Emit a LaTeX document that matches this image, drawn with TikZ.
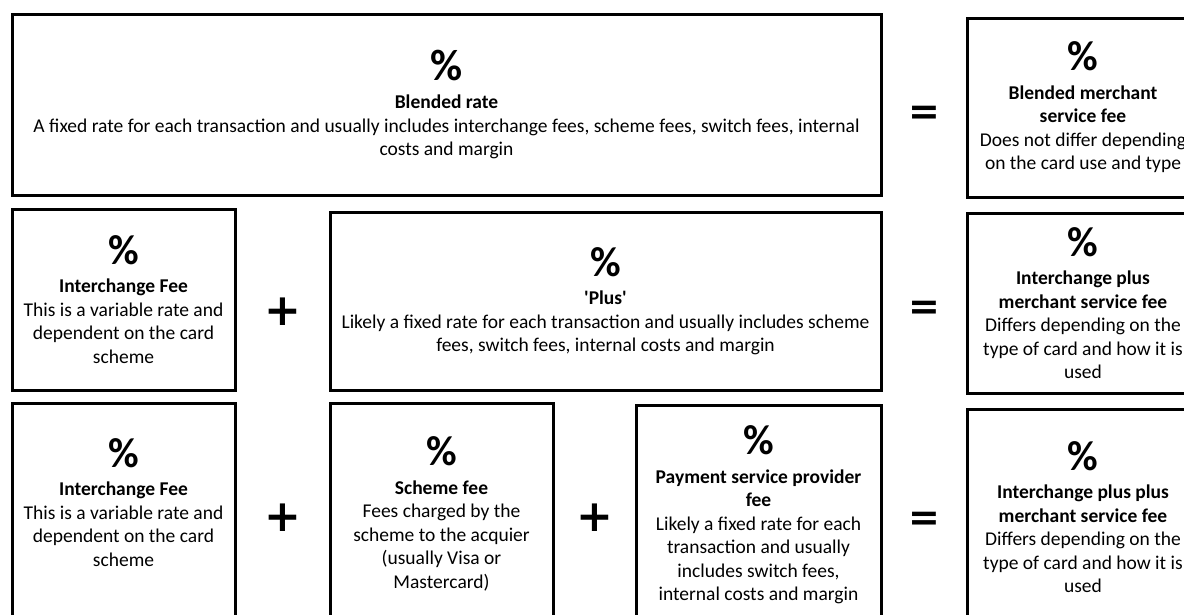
\documentclass[tikz,border=0pt]{standalone}
\usepackage{fontspec}
\setmainfont{Carlito}
\newfontfamily\signfont{DejaVu Sans}
\newcommand\pcthead[1][42]{{\fontsize{#1}{#1}\selectfont\bfseries\%}\\[5pt]}

\begin{document}
\begin{tikzpicture}[
  x=1pt,
  y=-1pt,
  feebox/.style={
    draw,
    line width=3pt,
    align=center,
    inner sep=0pt,
    font=\fontsize{19.5}{23.5}\selectfont
  },
  opsign/.style={
    inner sep=0pt,
    font=\signfont\bfseries\fontsize{44}{44}\selectfont
  },
  eqsign/.style={
    opsign,
    font=\signfont\bfseries\fontsize{38}{38}\selectfont
  },
]
\path[use as bounding box, clip] (0,0) rectangle (1184,614);

\node[feebox, minimum width=869pt, minimum height=181pt] (blended) at (446.5,104.5)
  {\pcthead[44]\textbf{Blended rate}\\
   A fixed rate for each transaction and usually includes interchange fees, scheme fees, switch fees, internal\\
   costs and margin};
\node[eqsign] (eqA) at (924,115) {=};
\node[feebox, minimum width=232pt, minimum height=179pt] (blendedmsf) at (1083,107.5)
  {\pcthead\textbf{Blended merchant}\\\textbf{service fee}\\
   Does not differ depending\\on the card use and type};

\node[feebox, minimum width=223pt, minimum height=181pt] (icA) at (123.5,299.5)
  {\pcthead\textbf{Interchange Fee}\\This is a variable rate and\\dependent on the card\\scheme};
\node[opsign] (plusA) at (282.5,312) {+};
\node[feebox, minimum width=551pt, minimum height=178pt] (plusfee) at (605.5,301)
  {\pcthead\textbf{\textquotesingle Plus\textquotesingle}\\
   Likely a fixed rate for each transaction and usually includes scheme\\
   fees, switch fees, internal costs and margin};
\node[eqsign] (eqB) at (924,310) {=};
\node[feebox, minimum width=232pt, minimum height=180pt] (icpmsf) at (1083,303)
  {\pcthead\textbf{Interchange plus}\\\textbf{merchant service fee}\\
   Differs depending on the\\type of card and how it is\\used};

\node[feebox, minimum width=223pt, minimum height=222pt] (icB) at (123.5,514)
  {\pcthead\textbf{Interchange Fee}\\This is a variable rate and\\dependent on the card\\scheme\\~};
\node[opsign] (plusB) at (282.5,518) {+};
\node[feebox, minimum width=223pt, minimum height=222pt] (scheme) at (441.5,514)
  {\pcthead\textbf{Scheme fee}\\Fees charged by the\\scheme to the acquier\\(usually Visa or\\Mastercard)};
\node[opsign] (plusC) at (594.5,518) {+};
\node[feebox, minimum width=245pt, minimum height=220pt] (psp) at (758.5,515)
  {\pcthead\textbf{Payment service provider}\\\textbf{fee}\\
   Likely a fixed rate for each\\transaction and usually\\includes switch fees,\\internal costs and margin};
\node[eqsign] (eqC) at (924,521) {=};
\node[feebox, minimum width=232pt, minimum height=216pt] (icppmsf) at (1083,517)
  {\pcthead\textbf{Interchange plus plus}\\\textbf{merchant service fee}\\
   Differs depending on the\\type of card and how it is\\used};
\end{tikzpicture}
\end{document}
